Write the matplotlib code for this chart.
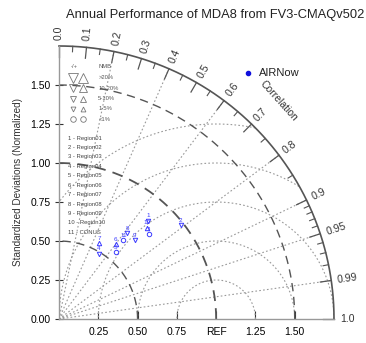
import matplotlib
matplotlib.use("Agg")
import matplotlib.pyplot as plt
import numpy as np

plt.rcParams["font.family"] = ["Liberation Sans", "DejaVu Sans"]

# ─── data ─────────────────────────────────────────────────────────────────────
TITLE = "Annual Performance of MDA8 from FV3-CMAQv502"

# normalized std and correlation per region
region_ids = ["1", "2", "3", "4", "5", "6", "7", "8", "9", "10", "11"]
region_std = [0.85, 0.98, 0.79, 0.49, 0.56, 0.60, 0.55, 0.70, 0.70, 0.81, 0.65]
region_cor = [0.67, 0.79, 0.725, 0.52, 0.645, 0.60, 0.465, 0.62, 0.69, 0.69, 0.63]
region_mark = ["v", "v", "o", "v", "o", "^", "^", "v", "v", "^", "o"]
region_names = ["Region01", "Region02", "Region03", "Region04", "Region05", "Region06",
                "Region07", "Region08", "Region09", "Region10", "CONUS"]

cor_major = [0.0, 0.1, 0.2, 0.3, 0.4, 0.5, 0.6, 0.7, 0.8, 0.9, 0.95, 0.99, 1.0]
cor_major_lbl = ["0.0", "0.1", "0.2", "0.3", "0.4", "0.5", "0.6", "0.7", "0.8",
                 "0.9", "0.95", "0.99", "1.0"]
cor_minor = [0.05, 0.15, 0.25, 0.35, 0.45, 0.55, 0.65, 0.75, 0.85,
             0.91, 0.92, 0.93, 0.94, 0.96, 0.97, 0.98]
cor_rays = [0.2, 0.4, 0.6, 0.8, 0.9, 0.95, 0.99]
std_arcs = [0.5, 1.0, 1.5]
rms_arcs = [0.25, 0.5, 0.75, 1.0, 1.25]
x_ticks = [0.25, 0.5, 0.75, 1.0, 1.25, 1.5]
x_tick_lbl = ["0.25", "0.50", "0.75", "REF", "1.25", "1.50"]
y_ticks = [0.0, 0.25, 0.5, 0.75, 1.0, 1.25, 1.5]

nmb_rows = [">20%", "10-20%", "5-10%", "1-5%", "<1%"]
nmb_size = [6.5, 5.5, 4.5, 3.5, 4.0]
nmb_left = ["v", "v", "v", "v", "o"]
nmb_right = ["^", "^", "^", "^", "o"]

RMAX = 1.75
BLUE = "#3a3aff"

# ─── figure ───────────────────────────────────────────────────────────────────
fig = plt.figure(figsize=(3.66, 3.43), dpi=100)
ax = fig.add_axes([59 / 366, 24 / 343, 275 / 366, 273 / 343])
ax.set_xlim(0, RMAX)
ax.set_ylim(0, RMAX)
for s in ["top", "right"]:
    ax.spines[s].set_visible(False)
for s in ["left", "bottom"]:
    ax.spines[s].set_color("#999999")
    ax.spines[s].set_linewidth(1.0)

ax.set_xticks(x_ticks)
ax.set_xticklabels(x_tick_lbl, fontsize=7.5)
ax.set_yticks(y_ticks)
ax.set_yticklabels([f"{v:.2f}" for v in y_ticks], fontsize=7.5)
ax.tick_params(axis="x", direction="in", length=6, color="#333333", pad=6)
ax.tick_params(axis="y", direction="inout", length=6, color="#333333", pad=3)
ax.set_ylabel("Standardized Deviations (Normalized)", fontsize=7.2, color="#333333", labelpad=5)

th = np.linspace(0, np.pi / 2, 300)

# rms circles around REF, clipped to the outer arc
for r in rms_arcs:
    t = np.linspace(0, np.pi, 400)
    x = 1.0 + r * np.cos(t)
    y = r * np.sin(t)
    ok = (x >= 0) & (np.hypot(x, y) <= RMAX)
    x = np.where(ok, x, np.nan)
    ax.plot(x, y, ls=(0, (1.5, 2)), lw=0.8, color="#999999")

# correlation rays
for c in cor_rays:
    a = np.arccos(c)
    ax.plot([0, RMAX * np.cos(a)], [0, RMAX * np.sin(a)],
            ls=(0, (1.5, 2)), lw=0.8, color="#999999")

# std arcs
for r in std_arcs:
    lw = 1.3 if r == 1.0 else 1.0
    ax.plot(r * np.cos(th), r * np.sin(th), ls=(0, (6, 4)), lw=lw, color="#555555")

# outer arc + ticks
ax.plot(RMAX * np.cos(th), RMAX * np.sin(th), color="#555555", lw=1.2, clip_on=False)
for c, lbl in zip(cor_major, cor_major_lbl):
    a = np.arccos(c)
    ax.plot([RMAX * np.cos(a), (RMAX - 0.07) * np.cos(a)],
            [RMAX * np.sin(a), (RMAX - 0.07) * np.sin(a)], color="#555555", lw=0.9, clip_on=False)
    ax.text(1.79 * np.cos(a), 1.79 * np.sin(a), lbl, rotation=np.degrees(a),
            rotation_mode="anchor", ha="left", va="center", fontsize=7.5, color="#333333")
for c in cor_minor:
    a = np.arccos(c)
    ax.plot([RMAX * np.cos(a), (RMAX - 0.035) * np.cos(a)],
            [RMAX * np.sin(a), (RMAX - 0.035) * np.sin(a)], color="#555555", lw=0.8, clip_on=False)

ax.text(1.40, 1.40, "Correlation", rotation=-48, ha="center", va="center",
        fontsize=7.5, color="#333333")

# region points
for rid, s, c, m in zip(region_ids, region_std, region_cor, region_mark):
    a = np.arccos(c)
    px, py = s * np.cos(a), s * np.sin(a)
    ax.plot(px, py, marker=m, ms=3.2, mfc="none", mec=BLUE, mew=0.7, ls="none")
    ax.text(px, py + 0.015, rid, color=BLUE, fontsize=4.5, ha="center", va="bottom")

# NMB marker key
ax.text(0.10, 1.62, "-/+", fontsize=4.2, color="#555555", ha="center", va="center")
ax.text(0.25, 1.62, "NMB", fontsize=4.2, color="#555555", ha="left", va="center")
for i, (lbl, ms, ml, mr) in enumerate(zip(nmb_rows, nmb_size, nmb_left, nmb_right)):
    yy = 1.545 - i * 0.066
    ax.plot(0.09, yy, marker=ml, ms=ms, mfc="none", mec="#777777", mew=0.6, ls="none")
    ax.plot(0.155, yy, marker=mr, ms=ms, mfc="none", mec="#777777", mew=0.6, ls="none")
    ax.text(0.25, yy, lbl, fontsize=4.2, color="#555555", ha="left", va="center")

# region key
for i, (rid, nm) in enumerate(zip(region_ids, region_names)):
    yy = 1.16 - i * 0.0605
    ax.text(0.055, yy, f"{rid} - {nm}", fontsize=4.2, color="#444444", ha="left", va="center")

# AIRNow legend
ax.plot(1.20, 1.58, marker="o", ms=3, color="#1010dd", ls="none", clip_on=False)
ax.text(1.27, 1.58, "AIRNow", fontsize=8, color="#222222", ha="left", va="center")

fig.text(0.995, 0.955, TITLE, fontsize=9.3, color="#222222", ha="right", va="center")

fig.savefig("out.png", dpi=100)
